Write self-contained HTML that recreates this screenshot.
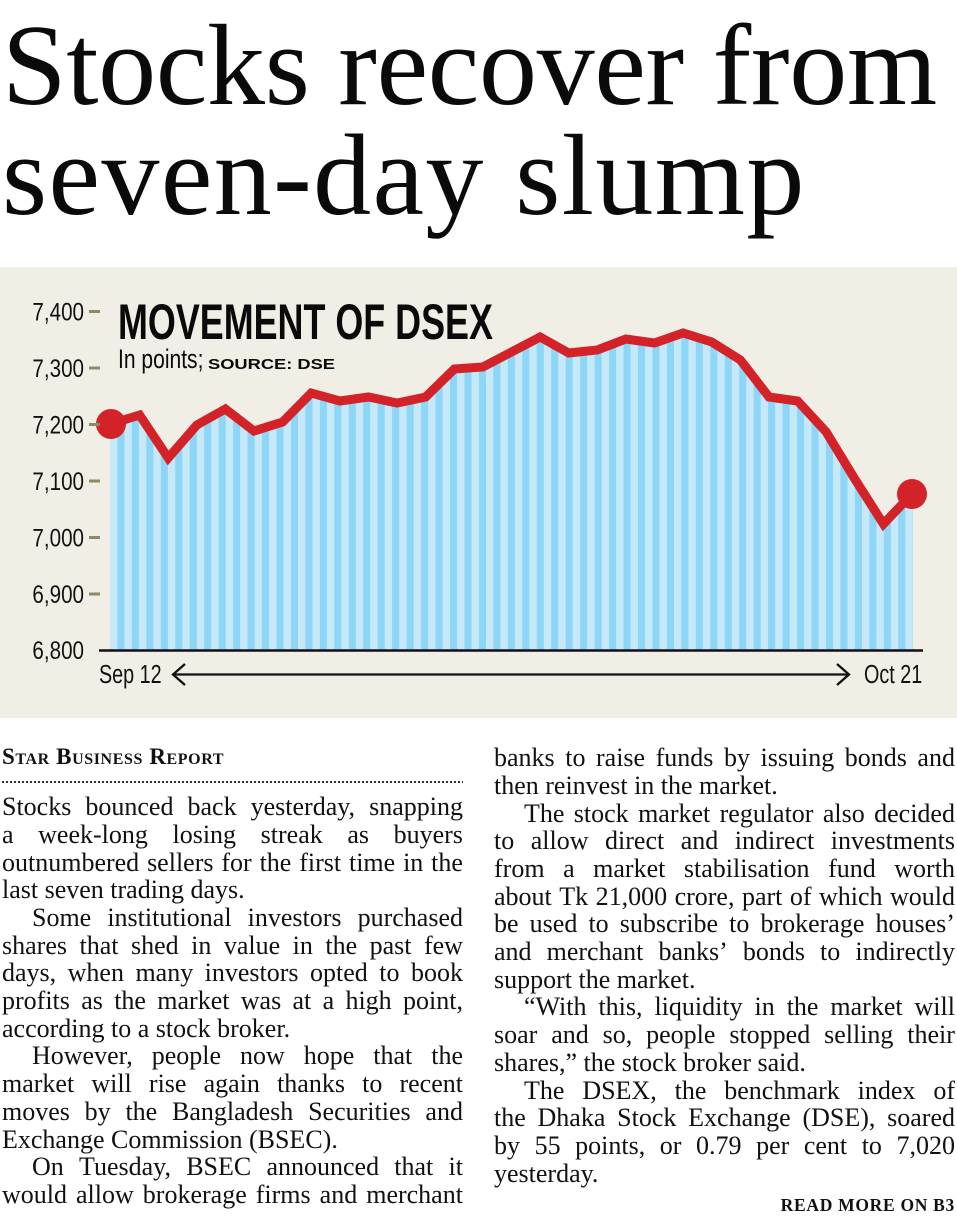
<!DOCTYPE html>
<html>
<head>
<meta charset="utf-8">
<style>
  html, body { margin:0; padding:0; background:#ffffff; }
  body { width:957px; height:1221px; position:relative; overflow:hidden; }
  .head {
    position:absolute; left:2px; top:10.8px;
    font-family:"Liberation Serif", serif; font-size:116px; line-height:110px;
    color:#0a0a0a; white-space:nowrap; letter-spacing:-0.3px;
  }
  .head .l2 { letter-spacing:1.4px; }
  svg.chart { position:absolute; left:0; top:0; }
  .byline {
    position:absolute; left:2px; top:745px;
    font-family:"Liberation Serif", serif; font-weight:bold; font-variant:small-caps;
    font-size:23px; line-height:23px; letter-spacing:0.6px; color:#111; white-space:nowrap;
  }
  .dots {
    position:absolute; left:2px; top:781px; width:461px; height:2px;
    background:repeating-linear-gradient(to right, #333 0 1.8px, transparent 1.8px 4px);
  }
  .col {
    position:absolute; width:461px;
    font-family:"Liberation Serif", serif; font-size:26px; line-height:27.7px; color:#111;
  }
  .col div { height:27.7px; white-space:nowrap; }
  .col .j { display:flex; justify-content:space-between; }
  .col .ind { padding-left:30px; }
  .readmore {
    position:absolute; right:2px; top:1195px;
    font-family:"Liberation Serif", serif; font-weight:bold; font-size:17.5px; line-height:21px;
    letter-spacing:0.7px; color:#111; white-space:nowrap;
  }
</style>
</head>
<body>

<div class="head">Stocks recover from<br><span class="l2">seven-day slump</span></div>

<svg class="chart" width="957" height="1221" viewBox="0 0 957 1221" xmlns="http://www.w3.org/2000/svg">
  <defs>
    <pattern id="st" x="110" y="0" width="14.46" height="10" patternUnits="userSpaceOnUse">
      <rect x="0" y="0" width="14.46" height="10" fill="#c6e9f9"/>
      <rect x="7.4" y="0" width="7.06" height="10" fill="#8dd6f5"/>
    </pattern>
  </defs>
  <rect x="0" y="267" width="957" height="451" fill="#f1eee6"/>

  <polygon fill="url(#st)" points="110,650 110,424 111,424 139.6,415 168.2,458 196.8,425 225.4,409 254,431 282.6,422 311.2,393 339.9,401 368.5,397 397.1,403 425.7,397 454.3,369 482.9,367 511.5,352 540.1,337 568.7,353 597.3,350 625.9,339 654.5,343 683.1,333 711.7,342 740.4,360 769,397 797.6,401 826.2,432 854.8,479 883.4,524 912,494 913,494 913,650"/>

  <polyline fill="none" stroke="#d42229" stroke-width="9" stroke-linejoin="miter" stroke-miterlimit="6" points="111,424 139.6,415 168.2,458 196.8,425 225.4,409 254,431 282.6,422 311.2,393 339.9,401 368.5,397 397.1,403 425.7,397 454.3,369 482.9,367 511.5,352 540.1,337 568.7,353 597.3,350 625.9,339 654.5,343 683.1,333 711.7,342 740.4,360 769,397 797.6,401 826.2,432 854.8,479 883.4,524 912,494"/>
  <circle cx="111" cy="424" r="15" fill="#d42229"/>
  <circle cx="912" cy="494" r="15" fill="#d42229"/>

  <line x1="99" y1="650.5" x2="923" y2="650.5" stroke="#111" stroke-width="2.5"/>

  <g stroke="#8c8b63" stroke-width="3">
    <line x1="89" y1="311.5" x2="100" y2="311.5"/>
    <line x1="89" y1="368" x2="100" y2="368"/>
    <line x1="89" y1="424.5" x2="100" y2="424.5"/>
    <line x1="89" y1="481" x2="100" y2="481"/>
    <line x1="89" y1="537.5" x2="100" y2="537.5"/>
    <line x1="89" y1="594" x2="100" y2="594"/>
  </g>

  <g font-family="Liberation Sans, DejaVu Sans, sans-serif" font-size="25" fill="#111" text-anchor="end">
    <text transform="translate(84 320.5) scale(0.825 1)">7,400</text>
    <text transform="translate(84 377) scale(0.825 1)">7,300</text>
    <text transform="translate(84 433.5) scale(0.825 1)">7,200</text>
    <text transform="translate(84 490) scale(0.825 1)">7,100</text>
    <text transform="translate(84 546.5) scale(0.825 1)">7,000</text>
    <text transform="translate(84 603) scale(0.825 1)">6,900</text>
    <text transform="translate(84 659) scale(0.825 1)">6,800</text>
  </g>

  <text transform="translate(118 339) scale(0.718 1)" font-family="Liberation Sans, DejaVu Sans, sans-serif" font-weight="bold" font-size="50" fill="#0a0a0a">MOVEMENT OF DSEX</text>
  <text transform="translate(118 368) scale(0.78 1)" font-family="Liberation Sans, DejaVu Sans, sans-serif" font-size="27" fill="#0a0a0a">In points;</text>
  <text transform="translate(208 369) scale(1.22 1)" font-family="Liberation Sans, DejaVu Sans, sans-serif" font-weight="bold" font-size="15" fill="#0a0a0a">SOURCE: DSE</text>

  <text transform="translate(99 683) scale(0.76 1)" font-family="Liberation Sans, DejaVu Sans, sans-serif" font-size="26" fill="#111">Sep 12</text>
  <text transform="translate(864 683) scale(0.76 1)" font-family="Liberation Sans, DejaVu Sans, sans-serif" font-size="26" fill="#111">Oct 21</text>

  <g stroke="#111" stroke-width="2.3" fill="none">
    <line x1="173" y1="674.5" x2="849" y2="674.5"/>
    <polyline points="185,664 173,674.5 185,685"/>
    <polyline points="837,664 849,674.5 837,685"/>
  </g>
</svg>

<div class="byline">Star Business Report</div>
<div class="dots"></div>

<div class="col" style="left:2px; top:793.3px;">
  <div class="j"><span>Stocks</span><span>bounced</span><span>back</span><span>yesterday,</span><span>snapping</span></div>
  <div class="j"><span>a</span><span>week-long</span><span>losing</span><span>streak</span><span>as</span><span>buyers</span></div>
  <div class="j"><span>outnumbered</span><span>sellers</span><span>for</span><span>the</span><span>first</span><span>time</span><span>in</span><span>the</span></div>
  <div>last seven trading days.</div>
  <div class="j ind"><span>Some</span><span>institutional</span><span>investors</span><span>purchased</span></div>
  <div class="j"><span>shares</span><span>that</span><span>shed</span><span>in</span><span>value</span><span>in</span><span>the</span><span>past</span><span>few</span></div>
  <div class="j"><span>days,</span><span>when</span><span>many</span><span>investors</span><span>opted</span><span>to</span><span>book</span></div>
  <div class="j"><span>profits</span><span>as</span><span>the</span><span>market</span><span>was</span><span>at</span><span>a</span><span>high</span><span>point,</span></div>
  <div>according to a stock broker.</div>
  <div class="j ind"><span>However,</span><span>people</span><span>now</span><span>hope</span><span>that</span><span>the</span></div>
  <div class="j"><span>market</span><span>will</span><span>rise</span><span>again</span><span>thanks</span><span>to</span><span>recent</span></div>
  <div class="j"><span>moves</span><span>by</span><span>the</span><span>Bangladesh</span><span>Securities</span><span>and</span></div>
  <div>Exchange Commission (BSEC).</div>
  <div class="j ind"><span>On</span><span>Tuesday,</span><span>BSEC</span><span>announced</span><span>that</span><span>it</span></div>
  <div class="j"><span>would</span><span>allow</span><span>brokerage</span><span>firms</span><span>and</span><span>merchant</span></div>
</div>

<div class="col" style="left:494px; top:744.3px;">
  <div class="j"><span>banks</span><span>to</span><span>raise</span><span>funds</span><span>by</span><span>issuing</span><span>bonds</span><span>and</span></div>
  <div>then reinvest in the market.</div>
  <div class="j ind"><span>The</span><span>stock</span><span>market</span><span>regulator</span><span>also</span><span>decided</span></div>
  <div class="j"><span>to</span><span>allow</span><span>direct</span><span>and</span><span>indirect</span><span>investments</span></div>
  <div class="j"><span>from</span><span>a</span><span>market</span><span>stabilisation</span><span>fund</span><span>worth</span></div>
  <div class="j"><span>about</span><span>Tk</span><span>21,000</span><span>crore,</span><span>part</span><span>of</span><span>which</span><span>would</span></div>
  <div class="j"><span>be</span><span>used</span><span>to</span><span>subscribe</span><span>to</span><span>brokerage</span><span>houses’</span></div>
  <div class="j"><span>and</span><span>merchant</span><span>banks’</span><span>bonds</span><span>to</span><span>indirectly</span></div>
  <div>support the market.</div>
  <div class="j ind"><span>“With</span><span>this,</span><span>liquidity</span><span>in</span><span>the</span><span>market</span><span>will</span></div>
  <div class="j"><span>soar</span><span>and</span><span>so,</span><span>people</span><span>stopped</span><span>selling</span><span>their</span></div>
  <div>shares,” the stock broker said.</div>
  <div class="j ind"><span>The</span><span>DSEX,</span><span>the</span><span>benchmark</span><span>index</span><span>of</span></div>
  <div class="j"><span>the</span><span>Dhaka</span><span>Stock</span><span>Exchange</span><span>(DSE),</span><span>soared</span></div>
  <div class="j"><span>by</span><span>55</span><span>points,</span><span>or</span><span>0.79</span><span>per</span><span>cent</span><span>to</span><span>7,020</span></div>
  <div>yesterday.</div>
</div>

<div class="readmore">READ MORE ON B3</div>

</body>
</html>
